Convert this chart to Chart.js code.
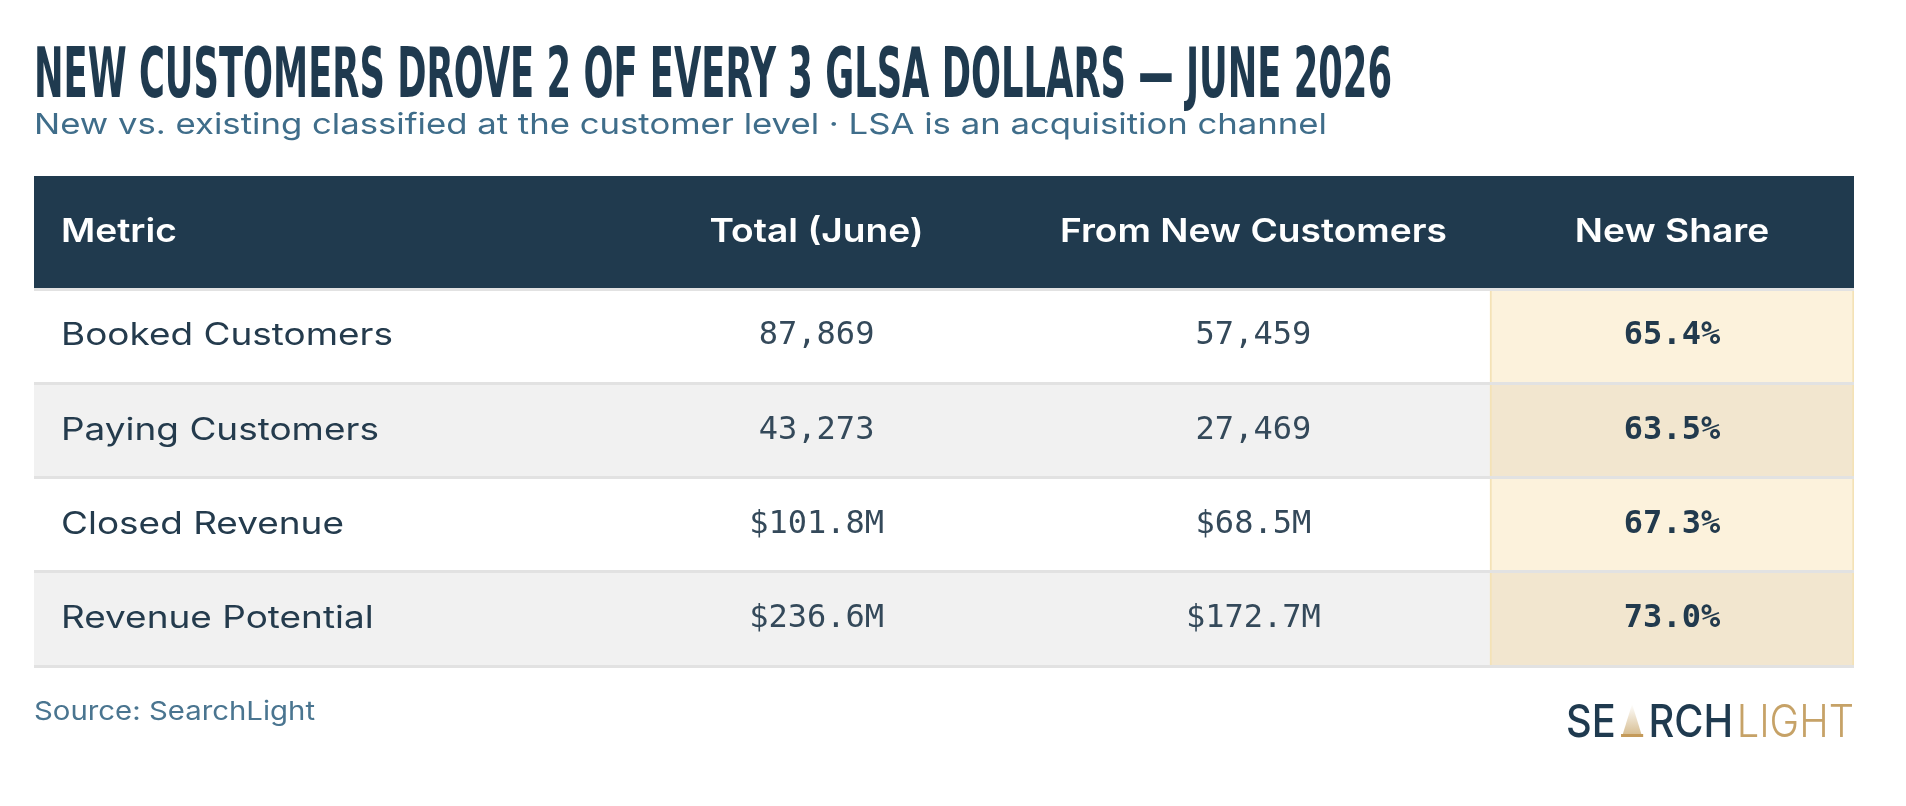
<!DOCTYPE html>
<html>
<head>
<meta charset="utf-8">
<title>New customers drove 2 of every 3 GLSA dollars</title>
<script src="https://cdn.jsdelivr.net/npm/chart.js@4.4.1/dist/chart.umd.min.js"></script>
<style>
  html, body { margin: 0; padding: 0; background: #ffffff; }
  canvas { display: block; }
</style>
</head>
<body>
<canvas id="tableChart" width="1906" height="806"></canvas>
<script>
// Table content
const columns = ['Metric', 'Total (June)', 'From New Customers', 'New Share'];
const metrics = ['Booked Customers', 'Paying Customers', 'Closed Revenue', 'Revenue Potential'];
const totalJune = ['87,869', '43,273', '$101.8M', '$236.6M'];
const fromNew = ['57,459', '27,469', '$68.5M', '$172.7M'];
const newShare = ['65.4%', '63.5%', '67.3%', '73.0%'];

const titleText = 'NEW CUSTOMERS DROVE 2 OF EVERY 3 GLSA DOLLARS \u2014 JUNE 2026';
const subtitleText = 'New vs. existing classified at the customer level \u00b7 LSA is an acquisition channel';
const sourceText = 'Source: SearchLight';

// column edges on the x scale (0..100)
const colEdges = [0, 32, 54, 80, 100];

const NAVY = '#203a4e';
const BODY_FONT = 'Inter, "Noto Sans", "DejaVu Sans", sans-serif';
const MONO_FONT = '"DejaVu Sans Mono", "Liberation Mono", monospace';
const HEADER_H = 113;

// draw text squeezed/stretched to a target width
function fitText(ctx, text, x, y, width, align) {
    const w = ctx.measureText(text).width;
    const sx = width ? width / w : 1;
    ctx.save();
    ctx.translate(x, y);
    ctx.scale(sx, 1);
    ctx.textAlign = align || 'left';
    ctx.fillText(text, 0, 0);
    ctx.restore();
}

function drawLogo(ctx, right, baseline) {
    const dark = '500 45px ' + BODY_FONT;
    const light = '300 45px ' + BODY_FONT;
    ctx.font = dark;
    const wSE = ctx.measureText('SE').width;
    const wRCH = ctx.measureText('RCH').width;
    ctx.font = light;
    const wLIGHT = ctx.measureText('LIGHT').width;
    const triW = 21, gap = 8;
    const natural = wSE + gap + triW + gap + wRCH + 4 + wLIGHT;
    const target = 288;
    const sx = target / natural;

    ctx.save();
    ctx.translate(right - target, baseline);
    ctx.scale(sx, 1);
    ctx.textAlign = 'left';
    ctx.textBaseline = 'alphabetic';

    let x = 0;
    ctx.font = dark;
    ctx.fillStyle = '#1f3a4f';
    ctx.fillText('SE', x, 0);
    x += wSE + gap;

    // light-beam "A"
    const grad = ctx.createLinearGradient(0, -33, 0, 0);
    grad.addColorStop(0, '#ffffff');
    grad.addColorStop(1, '#d4b98a');
    ctx.fillStyle = grad;
    ctx.beginPath();
    ctx.moveTo(x + triW / 2, -33);
    ctx.lineTo(x + triW, -3);
    ctx.lineTo(x, -3);
    ctx.closePath();
    ctx.fill();
    ctx.fillStyle = '#c49a5a';
    ctx.fillRect(x - 2, -3, triW + 4, 3);
    x += triW + gap;

    ctx.fillStyle = '#1f3a4f';
    ctx.fillText('RCH', x, 0);
    x += wRCH + 4;

    ctx.font = light;
    ctx.fillStyle = '#c6a267';
    ctx.fillText('LIGHT', x, 0);
    ctx.restore();
}

const tableText = {
    id: 'tableText',
    beforeDatasetsDraw(chart) {
        const { ctx, chartArea, scales: { x } } = chart;
        // header band
        ctx.save();
        ctx.fillStyle = NAVY;
        const left = x.getPixelForValue(colEdges[0]);
        const right = x.getPixelForValue(colEdges[4]);
        ctx.fillRect(left, chartArea.top - HEADER_H, right - left, HEADER_H);
        ctx.restore();
    },
    afterDraw(chart) {
        const { ctx, chartArea, scales: { x, y } } = chart;
        const left = x.getPixelForValue(colEdges[0]);
        const right = x.getPixelForValue(colEdges[4]);
        const centers = [1, 2, 3].map(c => (x.getPixelForValue(colEdges[c]) + x.getPixelForValue(colEdges[c + 1])) / 2);

        ctx.save();

        // title + subtitle
        ctx.textBaseline = 'alphabetic';
        ctx.fillStyle = '#1f3a4f';
        ctx.font = 'bold 70px "Liberation Sans Narrow", "DejaVu Sans Condensed", "Liberation Sans", sans-serif';
        fitText(ctx, titleText, left, 97, 1358, 'left');

        ctx.fillStyle = '#3f6d8a';
        ctx.font = '400 29px ' + BODY_FONT;
        fitText(ctx, subtitleText, left, 134, 1293, 'left');

        // header labels
        const headY = chartArea.top - HEADER_H / 2;
        ctx.textBaseline = 'middle';
        ctx.fillStyle = '#ffffff';
        ctx.font = '600 33px ' + BODY_FONT;
        const headSx = 387 / ctx.measureText(columns[2]).width;
        fitText(ctx, columns[0], left + 27, headY, ctx.measureText(columns[0]).width * headSx, 'left');
        for (let c = 1; c < columns.length; c++) {
            fitText(ctx, columns[c], centers[c - 1], headY, ctx.measureText(columns[c]).width * headSx, 'center');
        }

        // body rows
        ctx.font = '400 31px ' + BODY_FONT;
        const labelSx = 332 / ctx.measureText(metrics[0]).width;
        metrics.forEach((m, i) => {
            const rowY = y.getPixelForValue(i);
            ctx.fillStyle = '#243b4d';
            ctx.font = '400 31px ' + BODY_FONT;
            fitText(ctx, m, left + 27, rowY, ctx.measureText(m).width * labelSx, 'left');

            ctx.fillStyle = '#34495a';
            ctx.font = '400 32px ' + MONO_FONT;
            fitText(ctx, totalJune[i], centers[0], rowY, 0, 'center');
            fitText(ctx, fromNew[i], centers[1], rowY, 0, 'center');

            ctx.fillStyle = '#223a4d';
            ctx.font = 'bold 32px ' + MONO_FONT;
            fitText(ctx, newShare[i], centers[2], rowY, 0, 'center');
        });

        // source + logo
        ctx.fillStyle = '#4a7590';
        ctx.font = '400 26px ' + BODY_FONT;
        fitText(ctx, sourceText, left, 712, 281, 'left');

        drawLogo(ctx, right, 737);
        ctx.restore();
    }
};

const ctx = document.getElementById('tableChart').getContext('2d');
const tableChart = new Chart(ctx, {
    type: 'bar',
    data: {
        labels: metrics,
        datasets: [{
            label: 'New Share column',
            data: metrics.map(() => [colEdges[3], colEdges[4]]),
            backgroundColor: metrics.map((m, i) => i % 2 ? '#f2e6cf' : '#fcf2dc'),
            borderColor: '#f4e2b6',
            borderWidth: { left: 2, right: 2, top: 0, bottom: 0 },
            borderSkipped: false,
            barPercentage: 1,
            categoryPercentage: 1,
            grouped: false,
            order: 0
        }, {
            label: 'Rows',
            data: metrics.map(() => [colEdges[0], colEdges[4]]),
            backgroundColor: metrics.map((m, i) => i % 2 ? '#f1f1f1' : '#ffffff'),
            borderWidth: 0,
            barPercentage: 1,
            categoryPercentage: 1,
            grouped: false,
            order: 1
        }]
    },
    options: {
        indexAxis: 'y',
        responsive: false,
        animation: false,
        layout: {
            padding: { left: 34, right: 52, top: 289, bottom: 140 }
        },
        plugins: {
            legend: { display: false },
            tooltip: { enabled: false }
        },
        scales: {
            x: { display: false, min: 0, max: 100 },
            y: {
                offset: true,
                grid: { offset: true, z: 1, color: '#e2e2e2', lineWidth: 3, drawTicks: false },
                ticks: { display: false },
                border: { display: false }
            }
        }
    },
    plugins: [tableText]
});
</script>
</body>
</html>
